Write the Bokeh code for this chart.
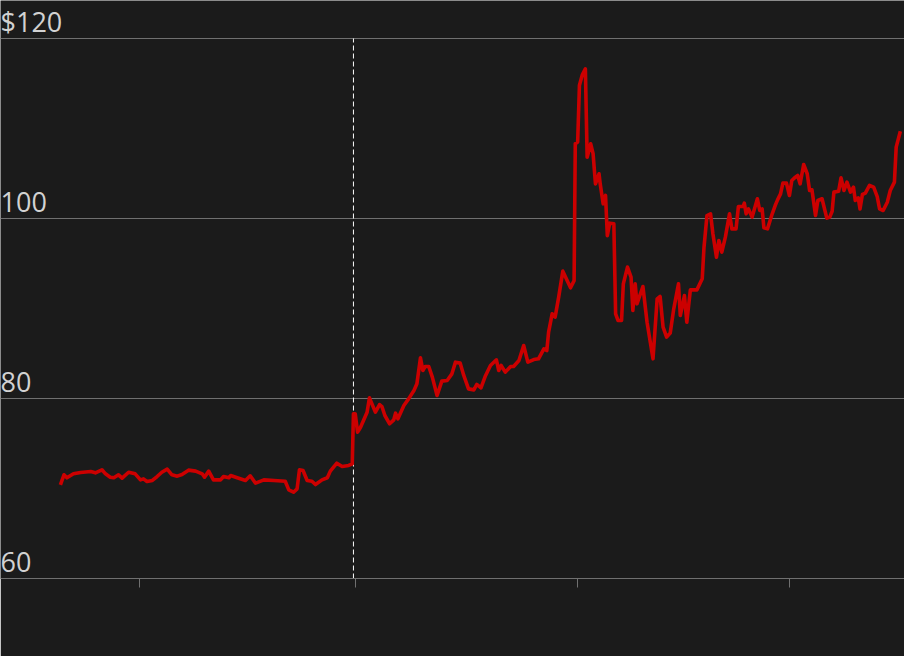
from bokeh.plotting import figure
from bokeh.models import Range1d, FixedTicker
from bokeh.core.properties import value
from bokeh.embed import file_html
from bokeh.resources import INLINE

# ---- data ----
days = [0, 6, 11, 22, 34, 51, 59, 70, 76, 84, 90, 98, 104, 115, 126, 135, 140, 146, 155, 163,
        171, 180, 188, 197, 205, 216, 228, 239, 243, 250, 258, 270, 275, 284, 287, 298, 312, 320,
        329, 343, 360, 379, 385, 393, 399, 403, 409, 416, 424, 430, 441, 450, 455, 466, 475, 486,
        492, 494, 497, 501, 506, 517, 521, 531, 538, 542, 547, 555, 562, 565, 569, 579, 587, 596,
        601, 607, 611, 615, 621, 627, 635, 643, 652, 660, 666, 674, 680, 688, 697, 702, 709, 716,
        725, 735, 739, 743, 750, 759, 764, 773, 781, 788, 798, 806, 815, 820, 823, 829, 834, 840,
        847, 860, 866, 868, 872, 875, 880, 885, 888, 894, 898, 902, 908, 910, 915, 919, 922, 926,
        933, 936, 940, 946, 949, 956, 962, 965, 969, 972, 982, 989, 999, 1006, 1011, 1016, 1022,
        1028, 1034, 1042, 1045, 1052, 1056, 1062, 1073, 1082, 1085, 1090, 1096, 1100, 1106, 1110,
        1115, 1121, 1128, 1132, 1139, 1143, 1151, 1153, 1156, 1160, 1166, 1175, 1179, 1183, 1186,
        1192, 1200, 1205, 1209, 1214, 1218, 1224, 1229, 1233, 1239, 1243, 1247, 1253, 1259, 1263,
        1267, 1273, 1277, 1284, 1292, 1297, 1301, 1304, 1312, 1316, 1321, 1326, 1332, 1337, 1340,
        1345, 1348, 1352, 1357, 1364, 1371, 1377, 1381, 1387, 1394, 1399, 1406, 1409, 1416]
price = [70.41, 71.52, 71.19, 71.63, 71.78, 71.89, 71.74, 72.08, 71.63, 71.26, 71.19, 71.52, 71.15,
         71.81, 71.63, 70.96, 71.07, 70.78, 70.89, 71.33, 71.81, 72.15, 71.52, 71.37, 71.56, 72.04,
         71.93, 71.63, 71.26, 71.93, 70.96, 70.96, 71.33, 71.19, 71.44, 71.19, 70.89, 71.41, 70.59,
         70.96, 70.89, 70.81, 69.85, 69.59, 69.96, 72.08, 72.00, 70.89, 70.81, 70.44, 70.96, 71.19,
         71.93, 72.81, 72.44, 72.56, 72.74, 78.30, 78.30, 76.26, 76.81, 78.48, 80.07, 78.48, 79.33,
         79.11, 78.11, 77.19, 77.63, 78.37, 77.74, 79.22, 79.96, 80.89, 81.63, 84.52, 83.11, 83.56,
         83.56, 82.37, 80.33, 81.93, 82.00, 82.74, 84.04, 83.93, 82.56, 81.07, 80.96, 81.56, 81.19,
         82.44, 83.67, 84.30, 83.11, 83.67, 82.93, 83.56, 83.56, 84.22, 85.89, 84.04, 84.33, 84.41,
         85.52, 85.33, 87.37, 89.41, 89.04, 91.26, 94.15, 92.30, 93.10, 108.30, 108.50, 114.80,
         116.00, 116.63, 106.80, 108.30, 107.20, 103.85, 104.97, 103.85, 101.63, 102.56, 98.10,
         99.48, 99.41, 89.41, 88.67, 88.67, 92.74, 94.60, 93.48, 89.78, 92.74, 90.52, 92.44, 88.48,
         84.41, 91.07, 91.33, 87.93, 86.82, 87.26, 89.96, 92.74, 89.22, 91.44, 88.48, 92.07, 92.07,
         93.30, 96.81, 100.33, 100.52, 98.30, 95.70, 97.56, 96.26, 97.93, 100.52, 98.85, 98.85,
         101.33, 101.33, 101.70, 100.52, 101.07, 100.15, 102.19, 100.89, 101.07, 98.96, 98.85,
         100.52, 101.44, 102.07, 102.74, 103.93, 103.93, 102.56, 104.22, 104.59, 104.78, 103.85,
         106.00, 104.97, 103.11, 103.19, 100.33, 102.00, 102.19, 100.04, 100.15, 100.81, 102.93,
         103.04, 104.52, 103.11, 104.04, 102.93, 103.48, 102.00, 102.30, 101.07, 102.67, 102.81,
         103.67, 103.48, 102.44, 101.07, 100.89, 101.81, 103.11, 104.04, 107.93, 109.70]

grid_values = [60, 80, 100, 120]
grid_labels = ["60", "80", "100", "$120"]
tick_days = [133, 497, 871, 1229]
event_day = [494]

x_start, x_end = -101, 1423
y_start, y_end = 60, 124.222

BG = "#1b1b1b"
GRID = "#707070"

p = figure(frame_width=904, frame_height=578,
           x_range=Range1d(x_start, x_end), y_range=Range1d(y_start, y_end),
           y_axis_location=None,
           output_backend="svg", toolbar_location=None,
           min_border_left=0, min_border_right=0, min_border_top=0, min_border_bottom=78,
           background_fill_color=BG, border_fill_color=BG, outline_line_color=None)

p.xgrid.visible = False
p.ygrid.ticker = FixedTicker(ticks=grid_values)
p.ygrid.grid_line_color = GRID
p.ygrid.grid_line_width = 1

ax = p.xaxis[0]
ax.ticker = FixedTicker(ticks=tick_days)
ax.minor_tick_line_color = None
ax.major_tick_in = 0
ax.major_tick_out = 9
ax.major_tick_line_color = GRID
ax.axis_line_color = GRID
ax.major_label_text_font_size = "0px"
ax.major_label_text_color = None

p.segment(x0=event_day, y0=[grid_values[0]], x1=event_day, y1=[grid_values[-1]],
          line_color="white", line_width=1, line_dash="5 3")

p.line(days, price, line_color="#cc0000", line_width=3.6, line_join="round")

p.text(x=[x_start] * len(grid_values), y=grid_values, text=grid_labels,
       text_font=value("Open Sans"), text_font_size="27px", text_color="#d2d2d2",
       text_align="left", text_baseline="alphabetic", y_offset=-16.5)

open("out.html", "w").write(file_html(p, INLINE))
